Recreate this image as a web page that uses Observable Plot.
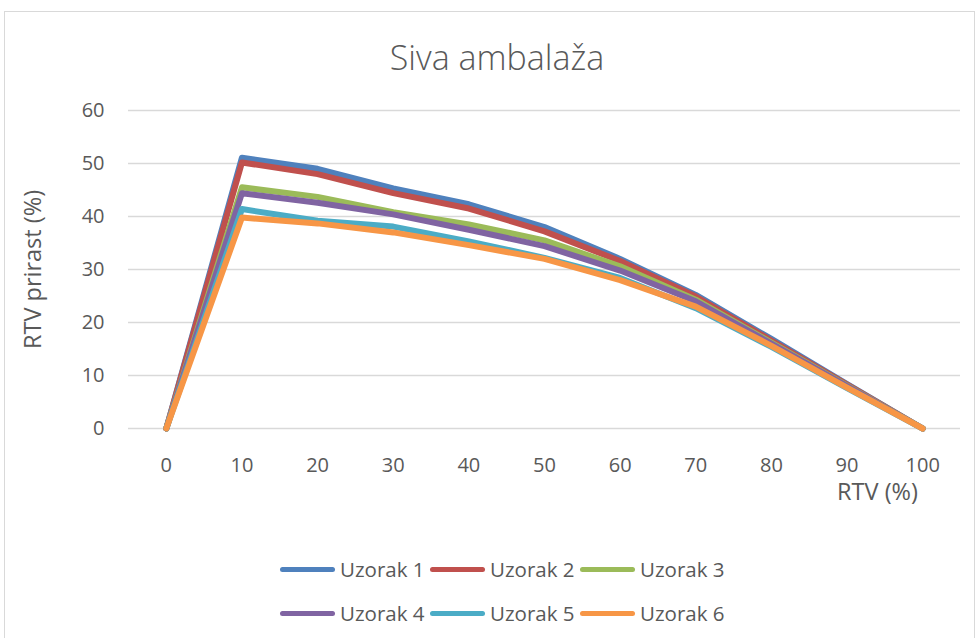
<!DOCTYPE html>
<html>
<head>
<meta charset="utf-8">
<script src="https://cdn.jsdelivr.net/npm/d3@7"></script>
<script src="https://cdn.jsdelivr.net/npm/@observablehq/plot@0.6"></script>
<style>
  html, body { margin: 0; padding: 0; background: #fff; }
  body { width: 978px; height: 638px; position: relative; overflow: hidden; font-family: "Open Sans", sans-serif; color: #595959; }
  #frame { position: absolute; left: 4px; top: 11px; width: 971px; height: 640px; border: 1px solid #d9d9d9; box-sizing: border-box; }
  #title { position: absolute; left: 8px; top: 34px; width: 978px; text-align: center; font-size: 34px; line-height: 46px; font-weight: 300; color: #595959; }
  #chart { position: absolute; left: 0; top: 90px; }
  .leg { position: absolute; display: flex; align-items: center; font-size: 20.5px; color: #595959; white-space: nowrap; }
  .sw { width: 55px; height: 5px; border-radius: 3px; margin-right: 5px; }
</style>
</head>
<body>
<div id="frame"></div>
<div id="title">Siva ambalaža</div>
<div id="chart"></div>
<div id="legend"></div>
<script>
// Data
const rtv = [0, 10, 20, 30, 40, 50, 60, 70, 80, 90, 100];
const seriesNames = ["Uzorak 1", "Uzorak 2", "Uzorak 3", "Uzorak 4", "Uzorak 5", "Uzorak 6"];
const uzorak1 = [0, 51.1, 49.0, 45.3, 42.3, 38.0, 32.0, 25.2, 16.9, 8.4, 0];
const uzorak2 = [0, 50.2, 48.0, 44.4, 41.5, 37.2, 31.6, 24.9, 16.6, 8.3, 0];
const uzorak3 = [0, 45.5, 43.7, 40.8, 38.5, 35.5, 30.6, 24.3, 16.2, 8.1, 0];
const uzorak4 = [0, 44.4, 42.6, 40.4, 37.5, 34.4, 29.8, 24.0, 16.0, 8.0, 0];
const uzorak5 = [0, 41.4, 39.2, 38.1, 35.3, 32.2, 28.4, 22.7, 15.4, 7.6, 0];
const uzorak6 = [0, 39.8, 38.7, 37.0, 34.6, 32.0, 28.0, 23.0, 15.6, 7.7, 0];
const yTicks = [0, 10, 20, 30, 40, 50, 60];
const colors = ["#4F81BD", "#C0504D", "#9BBB59", "#8064A2", "#4BACC6", "#F79646"];

const allSeries = [uzorak1, uzorak2, uzorak3, uzorak4, uzorak5, uzorak6];
const rows = [];
allSeries.forEach((vals, i) => {
  vals.forEach((v, j) => rows.push({ series: seriesNames[i], x: rtv[j], y: v }));
});

const chart = Plot.plot({
  width: 978,
  height: 420,
  marginTop: 20,
  marginBottom: 82,
  marginLeft: 128,
  marginRight: 18,
  style: { fontFamily: "Open Sans, sans-serif", fontSize: "20px", color: "#595959", background: "transparent" },
  x: { domain: [-5, 105], ticks: rtv, tickSize: 0, tickPadding: 29, label: null, tickFormat: d => String(d) },
  y: { domain: [0, 60], ticks: yTicks, tickSize: 0, tickPadding: 24, label: null },
  color: { domain: seriesNames, range: colors },
  marks: [
    Plot.gridY(yTicks, { stroke: "#d9d9d9", strokeOpacity: 1, strokeWidth: 1.3 }),
    Plot.axisX({ ticks: rtv, tickSize: 0, tickPadding: 29, fill: "#595959", fontSize: 20 }),
    Plot.axisY({ ticks: yTicks, tickSize: 0, tickPadding: 24, fill: "#595959", fontSize: 20 }),
    Plot.line(rows, { x: "x", y: "y", z: "series", stroke: "series", strokeWidth: 6, strokeLinejoin: "round", strokeLinecap: "round" }),
    Plot.text(["RTV prirast (%)"], { frameAnchor: "left", dx: -95, rotate: -90, textAnchor: "middle", lineAnchor: "middle", text: d => d, fill: "#595959", fontSize: 23.5 }),
    Plot.text(["RTV (%)"], { frameAnchor: "bottom", dx: 333, dy: 64, textAnchor: "middle", lineAnchor: "middle", text: d => d, fill: "#595959", fontSize: 23.5 })
  ]
});
document.getElementById("chart").appendChild(chart);

// Legend
const legend = document.getElementById("legend");
seriesNames.forEach((name, i) => {
  const el = document.createElement("div");
  el.className = "leg";
  const col = i % 3, row = Math.floor(i / 3);
  el.style.left = (280 + col * 150) + "px";
  el.style.top = (569 + row * 44 - 14) + "px";
  el.style.height = "28px";
  const sw = document.createElement("div");
  sw.className = "sw";
  sw.style.background = colors[i];
  const tx = document.createElement("span");
  tx.textContent = name;
  el.appendChild(sw);
  el.appendChild(tx);
  legend.appendChild(el);
});
</script>
</body>
</html>
